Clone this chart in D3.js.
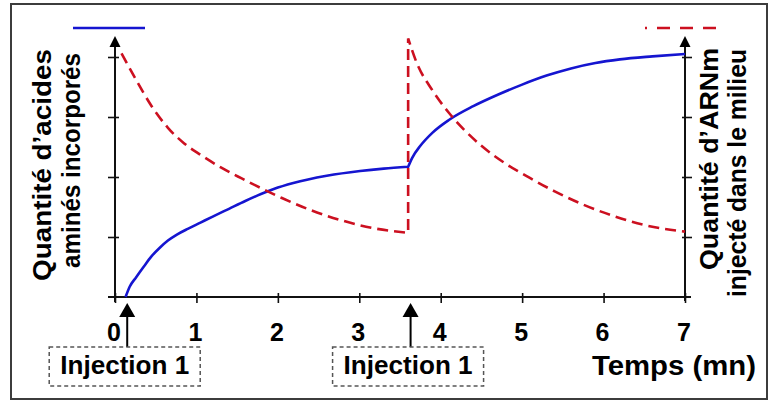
<!DOCTYPE html>
<html><head><meta charset="utf-8">
<script src="https://cdn.jsdelivr.net/npm/d3@7"></script>
<style>html,body{margin:0;padding:0;background:#fff}svg{display:block}text{font-family:"Liberation Sans",Arial,sans-serif;font-weight:bold;fill:#000}</style>
</head><body>
<svg id="c" width="774" height="402"></svg>
<script>
// ---- data ----
const xTicks = [0,1,2,3,4,5,6,7];
const yTicks = [1,2,3,4];
const blueTime1 = [0.13,0.18,0.26,0.35,0.45,0.55,0.65,0.76,0.9,1.05,1.2,1.4,1.6,1.8,1.95,2.19,2.6,3.01,3.3,3.6];
const blueVal1  = [0,0.17,0.33,0.5,0.68,0.82,0.94,1.04,1.14,1.24,1.34,1.47,1.6,1.72,1.8,1.9,2.02,2.1,2.14,2.17];
const blueTime2 = [3.6,3.65,3.75,3.9,4.1,4.4,4.7,5.0,5.3,5.6,5.9,6.2,6.6,7.0];
const blueVal2  = [2.17,2.32,2.52,2.74,2.95,3.18,3.37,3.54,3.69,3.81,3.9,3.96,4.01,4.05];
const redTime1 = [0.08,0.25,0.45,0.65,0.85,1.05,1.3,1.55,1.8,2.05,2.4,2.8,3.2,3.6];
const redVal1  = [4.06,3.64,3.18,2.82,2.56,2.37,2.16,1.98,1.81,1.65,1.45,1.27,1.14,1.07];
const redTime2 = [3.6,3.7,3.9,4.1,4.3,4.5,4.8,5.1,5.4,5.75,6.1,6.5,7.0];
const redVal2  = [4.31,3.92,3.44,3.07,2.77,2.52,2.22,1.98,1.76,1.54,1.36,1.2,1.09];
const injections = [0.15, 3.63];
const injectionLabels = ["Injection 1","Injection 1"];
const xTitle = "Temps (mn)";
const leftTitle = ["Quantité d\u2019acides","aminés incorporés"];
const rightTitle = ["Quantité d\u2019ARNm","injecté dans le milieu"];

const svg = d3.select("#c");
const x = d3.scaleLinear().domain([0,7]).range([115,685]);
const y = d3.scaleLinear().domain([0,4]).range([297,57]);
const blue = "#1515d0", red = "#cc1020";

// frame
svg.append("rect").attr("x",11).attr("y",4).attr("width",756).attr("height",395)
  .attr("fill","#fff").attr("stroke","#3c3c3c").attr("stroke-width",2);

// x axis
const gx = svg.append("g").attr("transform",`translate(0,${y(0)})`)
  .call(d3.axisBottom(x).tickValues(xTicks).tickSizeOuter(0).tickFormat(d3.format("d")));
gx.select(".domain").attr("d",`M${x(0)-7},0H${x(7)+6}`).attr("stroke","#111").attr("stroke-width",2);
gx.selectAll(".tick line").attr("y1",-4).attr("y2",6).attr("stroke","#111").attr("stroke-width",1.6);
gx.selectAll(".tick text").attr("y",44).attr("dy",0).attr("dx",-1.5).attr("font-size",25).attr("font-family",null).attr("fill","#000");

// left axis
const gl = svg.append("g").attr("transform",`translate(${x(0)},0)`)
  .call(d3.axisLeft(y).tickValues(yTicks).tickSizeOuter(0).tickFormat(""));
gl.select(".domain").attr("d",`M0,${y(0)+5}V46`).attr("stroke","#111").attr("stroke-width",2);
gl.selectAll(".tick line").attr("x1",-7).attr("x2",4).attr("stroke","#111").attr("stroke-width",1.6);
// right axis
const gr = svg.append("g").attr("transform",`translate(${x(7)},0)`)
  .call(d3.axisRight(y).tickValues(yTicks).tickSizeOuter(0).tickFormat(""));
gr.select(".domain").attr("d",`M0,${y(0)+4}V46`).attr("stroke","#111").attr("stroke-width",2);
gr.selectAll(".tick line").attr("x1",-3).attr("x2",7).attr("stroke","#111").attr("stroke-width",1.6);

// axis arrowheads
[x(0),x(7)].forEach(ax=>{
  svg.append("path").attr("d",`M${ax},36L${ax-5.5},47L${ax+5.5},47Z`).attr("fill","#000");
});

// curves
const line = d3.line().x(d=>x(d[0])).y(d=>y(d[1])).curve(d3.curveMonotoneX);
const zip = (a,b)=>a.map((t,i)=>[t,b[i]]);
const b1 = line(zip(blueTime1,blueVal1));
const b2 = line(zip(blueTime2,blueVal2)).replace(/^M/,"L");
svg.append("path").attr("d",b1+b2).attr("fill","none").attr("stroke",blue).attr("stroke-width",2.6);
const r1 = line(zip(redTime1,redVal1));
const r2 = line(zip(redTime2,redVal2)).replace(/^M/,"L");
svg.append("path").attr("d",r1+r2).attr("fill","none").attr("stroke",red).attr("stroke-width",2.6)
  .attr("stroke-dasharray","11,6");

// legends
svg.append("line").attr("x1",73).attr("x2",145).attr("y1",28).attr("y2",28).attr("stroke",blue).attr("stroke-width",2.6);
svg.append("line").attr("x1",645).attr("x2",717).attr("y1",28).attr("y2",28).attr("stroke",red).attr("stroke-width",2.6)
  .attr("stroke-dasharray","13,10").attr("stroke-dashoffset",11);

// injection arrows and boxes
injections.forEach((t,i)=>{
  const ax = x(t);
  svg.append("line").attr("x1",ax).attr("x2",ax).attr("y1",347).attr("y2",314).attr("stroke","#000").attr("stroke-width",2);
  svg.append("path").attr("d",`M${ax},303L${ax-8},317L${ax+8},317Z`).attr("fill","#000");
  const bx = ax - 78;
  svg.append("rect").attr("x",bx).attr("y",347).attr("width",151).attr("height",39)
    .attr("fill","none").attr("stroke","#555").attr("stroke-width",1.5).attr("stroke-dasharray","4,3");
  svg.append("text").attr("x",bx+75.5).attr("y",374).attr("text-anchor","middle")
    .attr("font-size",25).attr("textLength",129).attr("lengthAdjust","spacingAndGlyphs").text(injectionLabels[i]);
});

// x title
svg.append("text").attr("x",592).attr("y",375).attr("font-size",27)
  .attr("textLength",164).attr("lengthAdjust","spacingAndGlyphs").text(xTitle);

// rotated titles
const rot = (bx,sy,len,txt)=>svg.append("text").attr("transform",`translate(${bx},${sy}) rotate(-90)`)
  .attr("font-size",26).attr("textLength",len).attr("lengthAdjust","spacingAndGlyphs").text(txt);
rot(51,281,232,leftTitle[0]);
rot(80,268,215,leftTitle[1]);
rot(718,270,222,rightTitle[0]);
rot(746,297,248,rightTitle[1]);
</script>
</body></html>
